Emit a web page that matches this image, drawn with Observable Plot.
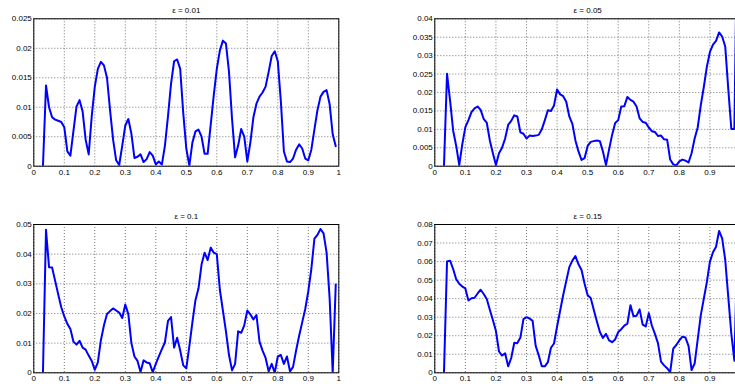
<!DOCTYPE html>
<html>
<head>
<meta charset="utf-8">
<script src="https://cdn.jsdelivr.net/npm/d3@7"></script>
<script src="https://cdn.jsdelivr.net/npm/@observablehq/plot@0.6"></script>
<style>
  html, body { margin: 0; padding: 0; background: #fff; overflow: hidden; }
  #fig { position: relative; width: 745px; height: 387px; }
  .panel { position: absolute; }
</style>
</head>
<body>
<div id="fig"></div>
<script>
// Error profiles sampled at x = 0.03, 0.04, ..., 0.99 for four values of ε.
const xStart = 0.03;
const xStep = 0.01;

const titles = ["ε = 0.01", "ε = 0.05", "ε = 0.1", "ε = 0.15"];

const err001 = [
  0, 0.0137, 0.0100, 0.0083, 0.0079, 0.0077, 0.0075,
  0.0066, 0.0025, 0.0018, 0.0060, 0.0101, 0.0112, 0.0093, 0.0045, 0.0020, 0.0085,
  0.0135, 0.0165, 0.0177, 0.0171, 0.0150, 0.0095, 0.0045, 0.0010, 0.0002, 0.0035,
  0.0069, 0.0080, 0.0055, 0.0014, 0.0016, 0.0020, 0.0007, 0.0012, 0.0024, 0.0018,
  0.0003, 0.0008, 0.0003, 0.0035, 0.0085, 0.0140, 0.0178, 0.0181, 0.0165, 0.0090,
  0.0030, 0.0001, 0.0040, 0.0059, 0.0062, 0.0050, 0.0021, 0.0021, 0.0070, 0.0120,
  0.0165, 0.0196, 0.0213, 0.0208, 0.0160, 0.0080, 0.0015, 0.0035, 0.0063, 0.0050,
  0.0008, 0.0040, 0.0083, 0.0106, 0.0118, 0.0125, 0.0135, 0.0160, 0.0187, 0.0195,
  0.0178, 0.0110, 0.0025, 0.0008, 0.0007, 0.0013, 0.0028, 0.0037, 0.0030, 0.0013,
  0.0010, 0.0028, 0.0062, 0.0095, 0.0118, 0.0126, 0.0129, 0.0105, 0.0054, 0.0034
];

const err005 = [
  0, 0.0251, 0.0178, 0.0097, 0.0055, 0.0003, 0.0060,
  0.0106, 0.0125, 0.0147, 0.0157, 0.0162, 0.0153, 0.0128, 0.0118, 0.0070, 0.0035,
  0.0003, 0.0035, 0.0050, 0.0075, 0.0112, 0.0123, 0.0138, 0.0135, 0.0092, 0.0088,
  0.0075, 0.0083, 0.0082, 0.0083, 0.0085, 0.0100, 0.0125, 0.0152, 0.0150, 0.0165,
  0.0208, 0.0195, 0.0190, 0.0175, 0.0135, 0.0115, 0.0070, 0.0040, 0.0017, 0.0022,
  0.0055, 0.0066, 0.0068, 0.0070, 0.0068, 0.0040, 0.0003, 0.0045, 0.0085, 0.0117,
  0.0125, 0.0162, 0.0163, 0.0188, 0.0180, 0.0175, 0.0162, 0.0130, 0.0120, 0.0118,
  0.0105, 0.0095, 0.0093, 0.0082, 0.0083, 0.0073, 0.0072, 0.0018, 0.0005, 0.0002,
  0.0013, 0.0018, 0.0015, 0.0010, 0.0035, 0.0075, 0.0105, 0.0165, 0.0215, 0.0270,
  0.0310, 0.0330, 0.0340, 0.0363, 0.0352, 0.0325, 0.0210, 0.0101, 0.0101, 0.0700
];

const err010 = [
  0, 0.0482, 0.0356, 0.0355, 0.0310, 0.0265, 0.0221,
  0.0190, 0.0165, 0.0148, 0.0105, 0.0095, 0.0108, 0.0085, 0.0078, 0.0058, 0.0040,
  0.0010, 0.0035, 0.0110, 0.0160, 0.0198, 0.0208, 0.0217, 0.0210, 0.0203, 0.0185,
  0.0230, 0.0198, 0.0100, 0.0055, 0.0040, 0.0003, 0.0042, 0.0035, 0.0032, 0.0002,
  0.0030, 0.0055, 0.0080, 0.0103, 0.0175, 0.0188, 0.0085, 0.0118, 0.0075, 0.0025,
  0.0015, 0.0090, 0.0170, 0.0245, 0.0285, 0.0365, 0.0405, 0.0380, 0.0422, 0.0405,
  0.0400, 0.0280, 0.0210, 0.0140, 0.0060, 0.0008, 0.0030, 0.0140, 0.0135, 0.0160,
  0.0210, 0.0197, 0.0180, 0.0195, 0.0105, 0.0075, 0.0050, 0.0005, 0.0030, 0.0000,
  0.0055, 0.0060, 0.0030, 0.0055, 0.0005, 0.0020, 0.0075, 0.0125, 0.0170, 0.0215,
  0.0275, 0.0350, 0.0452, 0.0465, 0.0485, 0.0470, 0.0405, 0.0250, 0.0000, 0.0298
];

const err015 = [
  0, 0.0600, 0.0605, 0.0560, 0.0505, 0.0480, 0.0465,
  0.0455, 0.0390, 0.0402, 0.0405, 0.0428, 0.0448, 0.0425, 0.0398, 0.0340, 0.0285,
  0.0225, 0.0115, 0.0093, 0.0105, 0.0035, 0.0080, 0.0162, 0.0160, 0.0190, 0.0290,
  0.0300, 0.0293, 0.0280, 0.0145, 0.0095, 0.0035, 0.0035, 0.0058, 0.0135, 0.0158,
  0.0250, 0.0335, 0.0420, 0.0495, 0.0570, 0.0605, 0.0630, 0.0585, 0.0555, 0.0480,
  0.0418, 0.0403, 0.0340, 0.0278, 0.0220, 0.0188, 0.0210, 0.0175, 0.0165, 0.0180,
  0.0220, 0.0235, 0.0255, 0.0265, 0.0365, 0.0305, 0.0308, 0.0342, 0.0260, 0.0250,
  0.0322, 0.0255, 0.0210, 0.0160, 0.0060, 0.0040, 0.0025, 0.0003, 0.0130, 0.0150,
  0.0175, 0.0195, 0.0190, 0.0145, 0.0015, 0.0050, 0.0180, 0.0310, 0.0400, 0.0490,
  0.0600, 0.0650, 0.0680, 0.0765, 0.0725, 0.0610, 0.0410, 0.0210, 0.0065, 0.0700
];

// Tick values (the right-hand panels run past the page edge, so their
// labelled x ticks stop at 0.9; the grid still covers the full range)
const xTicks = [0, 0.1, 0.2, 0.3, 0.4, 0.5, 0.6, 0.7, 0.8, 0.9, 1];
const xLabelsLeft = [0, 0.1, 0.2, 0.3, 0.4, 0.5, 0.6, 0.7, 0.8, 0.9, 1];
const xLabelsRight = [0, 0.1, 0.2, 0.3, 0.4, 0.5, 0.6, 0.7, 0.8, 0.9];
const yTicks001 = [0, 0.005, 0.01, 0.015, 0.02, 0.025];
const yTicks005 = [0, 0.005, 0.01, 0.015, 0.02, 0.025, 0.03, 0.035, 0.04];
const yTicks010 = [0, 0.01, 0.02, 0.03, 0.04, 0.05];
const yTicks015 = [0, 0.01, 0.02, 0.03, 0.04, 0.05, 0.06, 0.07, 0.08];

const fmt = d3.format("~g");

function panel({title, values, yTicks, xLabels, width, height, margins}) {
  const data = values.map((v, i) => ({x: xStart + i * xStep, y: v}));
  const yMax = yTicks[yTicks.length - 1];
  const dotted = {stroke: "#000", strokeOpacity: 0.55, strokeDasharray: "1,2", strokeWidth: 1};
  return Plot.plot({
    width, height,
    ...margins,
    style: {fontFamily: "'Liberation Sans', Arial, sans-serif", fontSize: "8px", background: "transparent", color: "#000", overflow: "visible"},
    x: {domain: [0, 1]},
    y: {domain: [0, yMax]},
    marks: [
      Plot.gridX(xTicks, dotted),
      Plot.gridY(yTicks, dotted),
      Plot.line(data, {x: "x", y: "y", stroke: "#0000ff", strokeWidth: 2, clip: true}),
      Plot.axisX(xLabels, {tickSize: 0, tickPadding: 3, tickFormat: fmt, label: null}),
      Plot.axisY(yTicks, {tickSize: 0, tickPadding: 2, tickFormat: fmt, label: null}),
      Plot.frame({stroke: "#000", strokeWidth: 1}),
      Plot.text([title], {frameAnchor: "top", dy: -11, fontSize: 8})
    ]
  });
}

const panels = [
  {title: titles[0], values: err001, yTicks: yTicks001, xLabels: xLabelsLeft, left: 0, top: 0, width: 345, height: 190,
   margins: {marginLeft: 33.3, marginRight: 6.7, marginTop: 18.3, marginBottom: 24.3}},
  {title: titles[1], values: err005, yTicks: yTicks005, xLabels: xLabelsRight, left: 400, top: 0, width: 345, height: 190,
   margins: {marginLeft: 34.3, marginRight: 5, marginTop: 18.3, marginBottom: 24.3}},
  {title: titles[2], values: err010, yTicks: yTicks010, xLabels: xLabelsLeft, left: 0, top: 200, width: 345, height: 187,
   margins: {marginLeft: 33.3, marginRight: 6.7, marginTop: 24, marginBottom: 14.7}},
  {title: titles[3], values: err015, yTicks: yTicks015, xLabels: xLabelsRight, left: 400, top: 200, width: 345, height: 187,
   margins: {marginLeft: 34.3, marginRight: 5, marginTop: 24, marginBottom: 14.7}}
];

const fig = document.getElementById("fig");
for (const p of panels) {
  const div = document.createElement("div");
  div.className = "panel";
  div.style.left = p.left + "px";
  div.style.top = p.top + "px";
  div.appendChild(panel(p));
  fig.appendChild(div);
}
</script>
</body>
</html>
